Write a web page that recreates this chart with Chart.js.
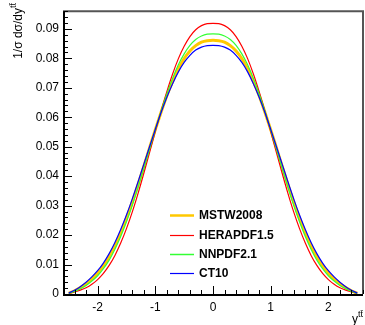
<!DOCTYPE html>
<html>
<head>
<meta charset="utf-8">
<script src="https://cdn.jsdelivr.net/npm/chart.js@4.4.1/dist/chart.umd.min.js"></script>
<style>
html,body{margin:0;padding:0;background:#fff;}
#wrap{width:365px;height:325px;}
</style>
</head>
<body>
<div id="wrap"><canvas id="c" width="365" height="325"></canvas></div>
<script>
// rapidity values (x axis)
const rapidity = [-2.5,-2.4,-2.3,-2.2,-2.1,-2.0,-1.9,-1.8,-1.7,-1.6,-1.5,-1.4,-1.3,-1.2,-1.1,-1.0,-0.9,-0.8,-0.7,-0.6,-0.5,-0.4,-0.3,-0.2,-0.1,0,
  0.1,0.2,0.3,0.4,0.5,0.6,0.7,0.8,0.9,1.0,1.1,1.2,1.3,1.4,1.5,1.6,1.7,1.8,1.9,2.0,2.1,2.2,2.3,2.4,2.5];

const mstw2008 = [0.0003,0.0011,0.0022,0.0035,0.0051,0.0071,0.0096,0.0127,0.0164,0.0208,0.0257,0.0312,0.0371,0.0433,0.0496,0.0558,0.0617,0.0673,0.0722,0.0764,0.0799,0.0825,0.0843,0.0855,0.0860,0.0861,
  0.0860,0.0855,0.0843,0.0825,0.0799,0.0764,0.0722,0.0673,0.0617,0.0558,0.0496,0.0433,0.0371,0.0312,0.0257,0.0208,0.0164,0.0127,0.0096,0.0071,0.0051,0.0035,0.0022,0.0011,0.0003];

const herapdf15 = [0.0002,0.0007,0.0013,0.0021,0.0033,0.0049,0.0070,0.0097,0.0131,0.0173,0.0222,0.0278,0.0341,0.0409,0.0480,0.0552,0.0621,0.0687,0.0747,0.0799,0.0841,0.0874,0.0897,0.0911,0.0918,0.0919,
  0.0918,0.0911,0.0897,0.0874,0.0841,0.0799,0.0747,0.0687,0.0621,0.0552,0.0480,0.0409,0.0341,0.0278,0.0222,0.0173,0.0131,0.0097,0.0070,0.0049,0.0033,0.0021,0.0013,0.0007,0.0002];

const nnpdf21 = [0.0002,0.0009,0.0018,0.0029,0.0044,0.0062,0.0086,0.0115,0.0152,0.0195,0.0245,0.0300,0.0361,0.0425,0.0491,0.0557,0.0620,0.0679,0.0732,0.0778,0.0815,0.0844,0.0864,0.0876,0.0882,0.0883,
  0.0882,0.0876,0.0864,0.0844,0.0815,0.0778,0.0732,0.0679,0.0620,0.0557,0.0491,0.0425,0.0361,0.0300,0.0245,0.0195,0.0152,0.0115,0.0086,0.0062,0.0044,0.0029,0.0018,0.0009,0.0002];

const ct10 = [0.0003,0.0013,0.0025,0.0040,0.0058,0.0079,0.0105,0.0137,0.0175,0.0219,0.0268,0.0322,0.0380,0.0440,0.0500,0.0559,0.0616,0.0668,0.0714,0.0754,0.0786,0.0810,0.0828,0.0838,0.0843,0.0844,
  0.0843,0.0838,0.0828,0.0810,0.0786,0.0754,0.0714,0.0668,0.0616,0.0559,0.0500,0.0440,0.0380,0.0322,0.0268,0.0219,0.0175,0.0137,0.0105,0.0079,0.0058,0.0040,0.0025,0.0013,0.0003];

const seriesNames = ['MSTW2008','HERAPDF1.5','NNPDF2.1','CT10'];
const seriesColors = ['#FFC800','#FF0000','#33FF33','#0000FF'];
const seriesWidths = [3,1.2,1.2,1.2];
const legendWidths = [2.5,1.2,1.5,1.2];
const seriesValues = [mstw2008, herapdf15, nnpdf21, ct10];
const xTickLabels = ['-2','-1','0','1','2'];
const yTickLabels = ['0','0.01','0.02','0.03','0.04','0.05','0.06','0.07','0.08','0.09'];

const FONT = "'Liberation Sans', Arial, Helvetica, sans-serif";
Chart.defaults.font.family = FONT;
Chart.defaults.font.size = 12;
Chart.defaults.color = '#000';

// draw order: MSTW at bottom, CT10 on top
const drawOrder = [4,3,2,1];

const datasets = seriesValues.map((vals, i) => ({
  label: seriesNames[i],
  data: rapidity.map((x, k) => ({x: x, y: vals[k]})),
  borderColor: seriesColors[i],
  borderWidth: seriesWidths[i],
  pointRadius: 0,
  fill: false,
  cubicInterpolationMode: 'monotone',
  order: drawOrder[i]
}));

const framePlugin = {
  id: 'frame',
  afterDatasetsDraw(chart) {
    const ctx = chart.ctx;
    const a = chart.chartArea;
    const xs = chart.scales.x, ys = chart.scales.y;
    ctx.save();
    ctx.strokeStyle = '#555';
    ctx.lineWidth = 2;
    ctx.beginPath();
    ctx.moveTo(a.left, a.top);
    ctx.lineTo(a.right, a.top);
    ctx.lineTo(a.right, a.bottom);
    ctx.stroke();
    ctx.strokeStyle = '#000';
    ctx.lineWidth = 2;
    ctx.beginPath();
    ctx.moveTo(a.left + 1, a.top);
    ctx.lineTo(a.left + 1, a.bottom + 1);
    ctx.lineTo(a.right, a.bottom + 1);
    ctx.stroke();
    ctx.lineWidth = 1;
    ctx.beginPath();
    for (let k = 0; k <= 48; k++) {
      const v = k * 0.002;
      const py = Math.round(ys.getPixelForValue(v)) + 0.5;
      const len = (k % 5 === 0) ? 8 : 4;
      ctx.moveTo(a.left + 1, py);
      ctx.lineTo(a.left + 1 + len, py);
    }
    for (let k = -13; k <= 13; k++) {
      const v = k * 0.2;
      const px = Math.round(xs.getPixelForValue(v)) + 0.5;
      const len = (k % 5 === 0) ? 8 : 4;
      ctx.moveTo(px, a.bottom);
      ctx.lineTo(px, a.bottom - len);
    }
    ctx.stroke();
    ctx.restore();

    // legend
    ctx.save();
    const rows = [215, 235, 254, 273];
    ctx.font = "bold 12px " + FONT;
    ctx.textBaseline = 'middle';
    ctx.textAlign = 'left';
    for (let i = 0; i < seriesNames.length; i++) {
      ctx.strokeStyle = seriesColors[i];
      ctx.lineWidth = legendWidths[i];
      ctx.beginPath();
      ctx.moveTo(170, rows[i] + 0.5);
      ctx.lineTo(194, rows[i] + 0.5);
      ctx.stroke();
      ctx.fillStyle = '#000';
      ctx.fillText(seriesNames[i], 199, rows[i] + 1);
    }
    ctx.restore();

    // y title
    const sup = 't\u0074\u0304';
    ctx.save();
    ctx.fillStyle = '#000';
    ctx.translate(22, 3);
    ctx.rotate(-Math.PI / 2);
    ctx.textBaseline = 'alphabetic';
    ctx.textAlign = 'left';
    ctx.font = "9px " + FONT;
    const ws = ctx.measureText(sup).width;
    ctx.fillText(sup, -ws, -6);
    ctx.font = "12px " + FONT;
    const main = '1/\u03c3 d\u03c3/dy';
    const wm = ctx.measureText(main).width;
    ctx.fillText(main, -ws - wm, 0);
    ctx.restore();

    // x title
    ctx.save();
    ctx.fillStyle = '#000';
    ctx.textBaseline = 'alphabetic';
    ctx.textAlign = 'left';
    ctx.font = "12px " + FONT;
    ctx.fillText('y', 352, 323);
    ctx.font = "9px " + FONT;
    ctx.fillText(sup, 358, 317);
    ctx.restore();
  }
};

new Chart(document.getElementById('c'), {
  type: 'line',
  data: { datasets: datasets },
  options: {
    responsive: false,
    devicePixelRatio: 1,
    animation: false,
    layout: { padding: { top: 6, right: 2, left: 0, bottom: 0 } },
    plugins: { legend: { display: false }, tooltip: { enabled: false } },
    scales: {
      x: {
        type: 'linear',
        min: -2.6, max: 2.6,
        grid: { display: false, drawTicks: false },
        border: { display: false },
        ticks: {
          stepSize: 1, includeBounds: false, padding: 6, maxRotation: 0,
          callback: (v) => { const i = Math.round(v) + 2; return xTickLabels[i]; }
        },
        afterFit: (s) => { s.height = 31; }
      },
      y: {
        type: 'linear',
        min: 0, max: 0.096,
        grid: { display: false, drawTicks: false },
        border: { display: false },
        ticks: {
          stepSize: 0.01, includeBounds: false, padding: 4,
          callback: (v) => yTickLabels[Math.round(v * 100)]
        },
        afterFit: (s) => { s.width = 63; }
      }
    }
  },
  plugins: [framePlugin]
});
</script>
</body>
</html>
